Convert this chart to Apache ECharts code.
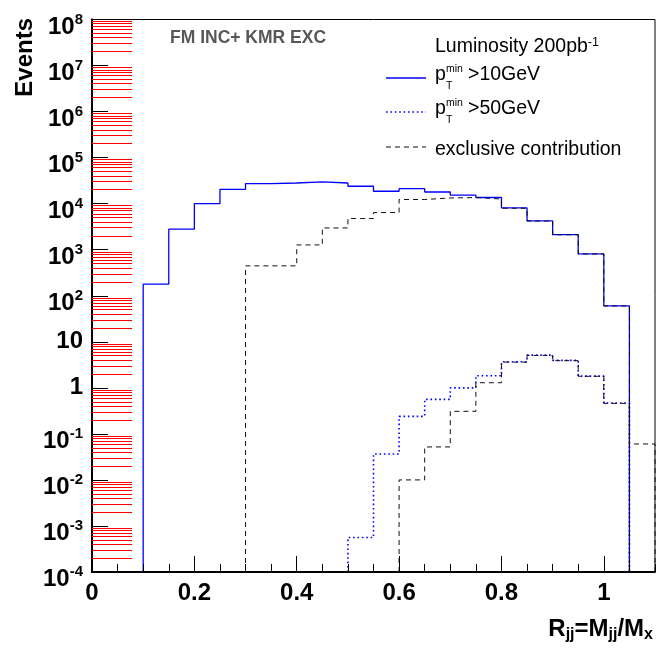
<!DOCTYPE html>
<html><head><meta charset="utf-8">
<script src="https://cdn.jsdelivr.net/npm/echarts@6/dist/echarts.min.js"></script>
<style>html,body{margin:0;padding:0;background:#fff}#c{width:670px;height:656px}</style>
</head><body><div id="c"></div>
<script>
// ---- data ----
const binLow = [0,0.05,0.10,0.15,0.20,0.25,0.30,0.35,0.40,0.45,0.50,0.55,0.60,0.65,0.70,0.75,0.80,0.85,0.90,0.95,1.00,1.05];
const binWidth = 0.05;
const pt10 = [0,0,178,2790,10000,20500,27300,28100,29600,28100,23900,18600,21200,17900,15400,13600,8070,4220,2130,811,60.4,0];
const excl10 = [0,0,0,0,0,0,446,446,1270,2970,4750,6410,12300,13300,13600,12600,7950,4200,2110,805,60,0];
const pt50 = [0,0,0,0,0,0,0,0,0,0,0.00056,0.0366,0.240,0.562,1.0,1.83,3.68,5.14,3.94,1.80,0.468,0];
const excl50 = [0,0,0,0,0,0,0,0,0,0,0,0,0.010,0.052,0.309,1.29,3.62,5.05,3.90,1.78,0.46,0.0604];
const yTickExp = [-4,-3,-2,-1,0,1,2,3,4,5,6,7,8];
const yMinorMantissa = [2,3,4,5,6,7,8,9];
const xTickLabels = {0:'0',0.2:'0.2',0.4:'0.4',0.6:'0.6',0.8:'0.8',1:'1'};

const YMIN = 1e-4, YMAX = 1e8, XMIN = 0, XMAX = 1.1;
const GRID = {left: 92, right: 15, top: 19, bottom: 84};
const FONT = '"Liberation Sans", Arial, Helvetica, sans-serif';

function steps(vals){
  let first = vals.findIndex(v => v > 0);
  let last = vals.length - 1;
  while (last >= 0 && !(vals[last] > 0)) last--;
  const pts = [[binLow[first], YMIN]];
  for (let i = first; i <= last; i++) {
    const x0 = binLow[i], x1 = +(binLow[i] + binWidth).toFixed(4);
    const v = vals[i] > 0 ? vals[i] : YMIN;
    pts.push([x0, v], [x1, v]);
  }
  pts.push([+(binLow[last] + binWidth).toFixed(4), YMIN]);
  return pts;
}

const chart = echarts.init(document.getElementById('c'), null, {renderer: 'canvas', width: 670, height: 656});
const txt = (x, y, text, size, extra) => ({type: 'text', x: x, y: y, z: 100,
  style: Object.assign({text: text, fontSize: size, fontFamily: FONT, fill: '#000', align: 'left', textAlign: 'left', verticalAlign: 'middle', textVerticalAlign: 'middle'}, extra || {})});
const graphics = [
  {type: 'text', x: 25, y: 18, rotation: Math.PI / 2, z: 100,
    style: {text: 'Events', fontSize: 24, fontWeight: 'bold', fontFamily: FONT, fill: '#000', align: 'right', textAlign: 'right', verticalAlign: 'middle', textVerticalAlign: 'middle'}},
  txt(170, 38.5, 'FM INC+ KMR EXC', 17.5, {fontWeight: 'bold', fill: '#575757'}),
  {type: 'text', x: 435, y: 46.5, z: 100,
    style: {text: '{a|Luminosity 200pb}{s|-1}', fontFamily: FONT, fill: '#000', align: 'left', textAlign: 'left', verticalAlign: 'middle', textVerticalAlign: 'middle',
      rich: {a: {fontSize: 19.5, lineHeight: 20, fontFamily: FONT, fill: '#000'},
             s: {fontSize: 12.5, lineHeight: 12, padding: [0, 0, 8, 0], fontFamily: FONT, fill: '#000'}}}},
  {type: 'line', z: 100, shape: {x1: 386, y1: 78, x2: 426, y2: 78}, style: {stroke: '#0000ff', lineWidth: 1.3}},
  txt(435, 75, 'p', 19.5),
  txt(446, 69.5, 'min', 10.5),
  txt(446, 86, 'T', 10.5),
  txt(468, 75, '>10GeV', 19.5),
  {type: 'line', z: 100, shape: {x1: 386, y1: 112, x2: 426, y2: 112}, style: {stroke: '#0000ff', lineWidth: 1.6, lineDash: [1.6, 2.8]}},
  txt(435, 109, 'p', 19.5),
  txt(446, 103.5, 'min', 10.5),
  txt(446, 120, 'T', 10.5),
  txt(468, 109, '>50GeV', 19.5),
  {type: 'line', z: 100, shape: {x1: 386, y1: 147, x2: 426, y2: 147}, style: {stroke: '#111', lineWidth: 1, lineDash: [5, 4]}},
  txt(435, 150, 'exclusive contribution', 19.5),
  {type: 'text', x: 653, y: 629, z: 100,
    style: {text: '{m|R}{s|jj}{m|=M}{s|jj}{m|/M}{s|x}', fontFamily: FONT, fill: '#000', align: 'right', textAlign: 'right', verticalAlign: 'middle', textVerticalAlign: 'middle',
      rich: {m: {fontSize: 24, fontWeight: 'bold', lineHeight: 24, fontFamily: FONT, fill: '#000'},
             s: {fontSize: 16, fontWeight: 'bold', lineHeight: 16, padding: [12, 0, 0, 0], fontFamily: FONT, fill: '#000'}}}}
];
const option = {
  animation: false,
  backgroundColor: '#fff',
  grid: Object.assign({show: true, borderColor: '#000', borderWidth: 1, backgroundColor: 'transparent'}, GRID),
  xAxis: [{
    type: 'value', min: XMIN, max: XMAX, interval: 0.2, position: 'bottom', z: 5,
    axisLine: {show: true, onZero: false, lineStyle: {color: '#000', width: 2}},
    axisTick: {show: true, inside: true, length: 16, lineStyle: {color: '#000', width: 1}},
    axisLabel: {show: true, margin: 9, fontSize: 24, fontWeight: 'bold', color: '#000', fontFamily: FONT,
      showMaxLabel: false,
      formatter: v => { const k = Math.round(v * 10) / 10; return xTickLabels[k] !== undefined ? xTickLabels[k] : ''; }},
    splitLine: {show: false}
  }, {
    type: 'value', min: XMIN, max: XMAX, interval: 0.05, position: 'bottom', z: 5,
    axisLine: {show: false, onZero: false},
    axisTick: {show: true, inside: true, length: 8, lineStyle: {color: '#000', width: 1}},
    axisLabel: {show: false}, splitLine: {show: false}
  }],
  yAxis: [{
    type: 'log', logBase: 10, min: YMIN, max: YMAX, interval: 1, splitNumber: 12, z: 5,
    axisLine: {show: true, lineStyle: {color: '#000', width: 2}},
    axisTick: {show: true, inside: true, length: 16, lineStyle: {color: '#000', width: 1}},
    minorTick: {show: false},
    axisLabel: {
      show: true, margin: 9, color: '#000', fontFamily: FONT,
      formatter: v => {
        const e = Math.round(Math.log10(v));
        if (yTickExp.indexOf(e) < 0) return '';
        if (e === 0) return '{b|1}';
        if (e === 1) return '{b|10}';
        return '{be|10}{s|' + e + '}';
      },
      rich: {
        b: {fontSize: 24, fontWeight: 'bold', lineHeight: 24, fontFamily: FONT, color: '#000'},
        be: {fontSize: 24, fontWeight: 'bold', lineHeight: 24, padding: [15, 0, 0, 0], fontFamily: FONT, color: '#000'},
        s: {fontSize: 15, fontWeight: 'bold', lineHeight: 15, fontFamily: FONT, color: '#000'}
      }
    },
    splitLine: {show: false}
  }, {
    type: 'value', min: 0, max: 1, position: 'right',
    axisLine: {show: true, lineStyle: {color: '#808080', width: 2}},
    axisTick: {show: false}, axisLabel: {show: false}, splitLine: {show: false}
  }],
  series: [
    {name: 'pT>10', type: 'line', data: steps(pt10), symbol: 'none', z: 2, lineStyle: {color: '#0000ff', width: 1.3}},
    {name: 'pT>50', type: 'line', data: steps(pt50), symbol: 'none', z: 2, lineStyle: {color: '#0000ff', width: 1.6, type: [1.6, 2.8]}},
    {name: 'exclusive contribution', type: 'line', data: steps(excl10), symbol: 'none', z: 3, lineStyle: {color: '#111', width: 1, type: [5, 4]}},
    {name: 'exclusive contribution (pT>50)', type: 'line', data: steps(excl50), symbol: 'none', z: 3, lineStyle: {color: '#111', width: 1, type: [5, 4]}}
  ]
};
chart.setOption(option);

// DIAGNOSTIC: minor ticks drawn red and long
const plotTop = GRID.top, plotBottom = 656 - GRID.bottom;
const minorTickEls = [];
for (let k = 0; k < yTickExp.length - 1; k++) {
  for (let j = 0; j < yMinorMantissa.length; j++) {
    const v = yMinorMantissa[j] * Math.pow(10, yTickExp[k]);
    const lmin = Math.log10(YMIN), lmax = Math.log10(YMAX);
    const py = plotBottom - (Math.log10(v) - lmin) / (lmax - lmin) * (plotBottom - plotTop);
    const y = Math.round(py) + 0.5;
    minorTickEls.push({type: 'line', z: 100, shape: {x1: GRID.left, y1: y, x2: GRID.left + 40, y2: y}, style: {stroke: '#ff0000', lineWidth: 1}});
  }
}
chart.setOption({graphic: {elements: graphics.concat(minorTickEls)}});
</script>
</body></html>
